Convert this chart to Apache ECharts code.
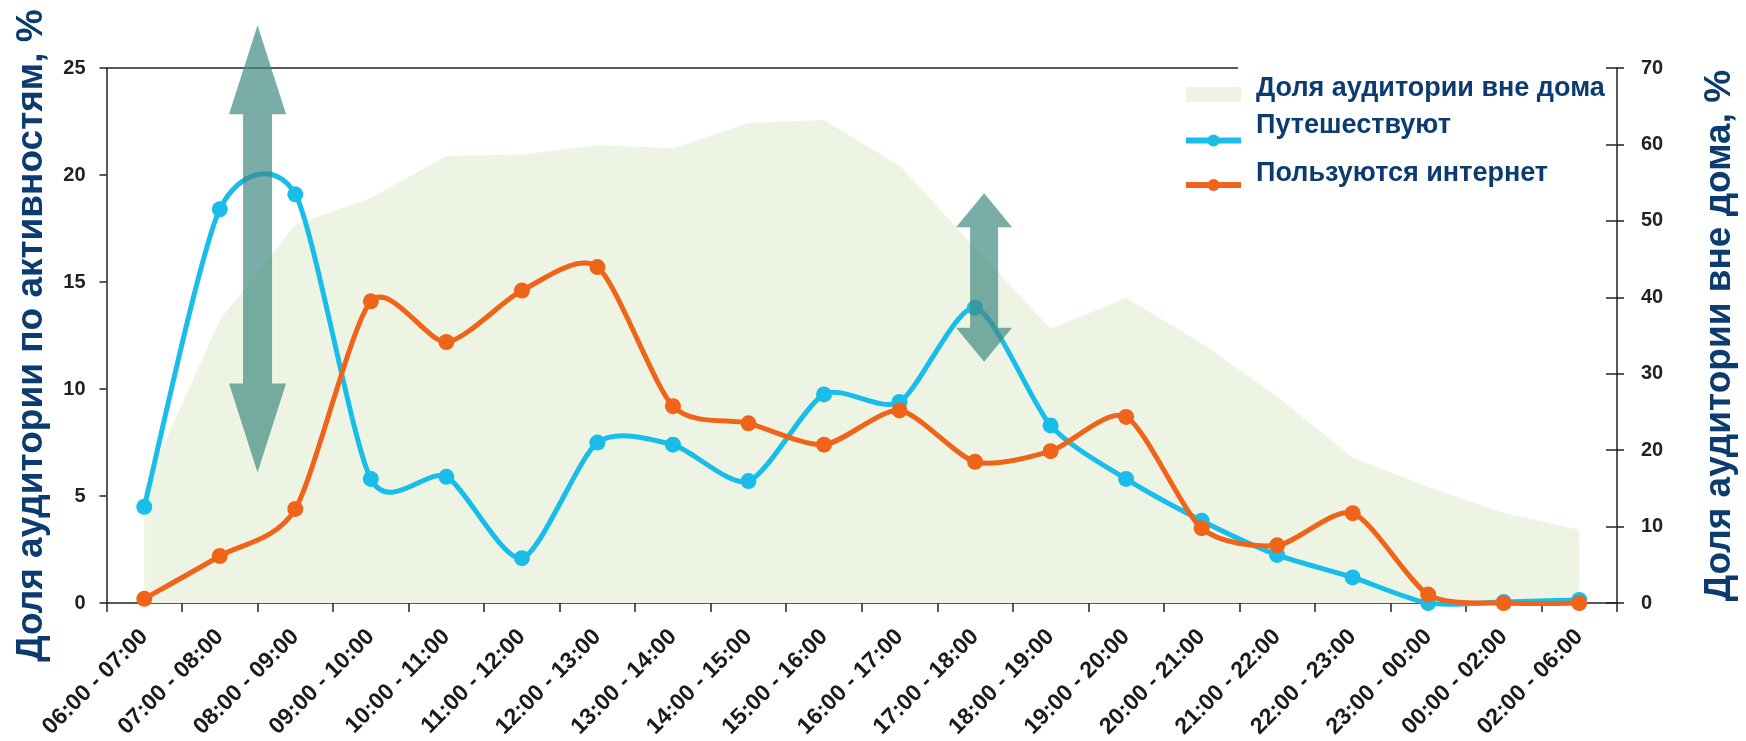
<!DOCTYPE html>
<html>
<head>
<meta charset="utf-8">
<script src="https://cdn.jsdelivr.net/npm/echarts@6/dist/echarts.min.js"></script>
<style>
  html, body { margin: 0; padding: 0; background: #ffffff; }
  #chart { width: 1746px; height: 741px; }
</style>
</head>
<body>
<div id="chart"></div>
<script>
// Time slots of the day
const categories = [
  '06:00 - 07:00', '07:00 - 08:00', '08:00 - 09:00', '09:00 - 10:00',
  '10:00 - 11:00', '11:00 - 12:00', '12:00 - 13:00', '13:00 - 14:00',
  '14:00 - 15:00', '15:00 - 16:00', '16:00 - 17:00', '17:00 - 18:00',
  '18:00 - 19:00', '19:00 - 20:00', '20:00 - 21:00', '21:00 - 22:00',
  '22:00 - 23:00', '23:00 - 00:00', '00:00 - 02:00', '02:00 - 06:00'
];

// Share of audience outside home, % (right axis)
const outsideHome = [15, 37, 49.5, 53, 58.5, 58.7, 59.9, 59.5, 62.8, 63.2,
  57.2, 46.5, 35.9, 39.9, 34.0, 27.0, 19.0, 15.2, 11.8, 9.6];

// Share travelling, % (left axis)
const travelling = [4.5, 18.4, 19.1, 5.8, 5.9, 2.1, 7.5, 7.4, 5.7, 9.75,
  9.4, 13.8, 8.3, 5.8, 3.85, 2.25, 1.2, 0, 0.05, 0.15];

// Share using the internet, % (left axis)
const internet = [0.2, 2.2, 4.4, 14.1, 12.2, 14.6, 15.7, 9.2, 8.4, 7.4,
  9.0, 6.6, 7.1, 8.7, 3.5, 2.7, 4.2, 0.4, 0, 0];

const seriesNames = ['Доля аудитории вне дома', 'Путешествуют', 'Пользуются интернет'];
const leftTitle = 'Доля аудитории по активностям, %';
const rightTitle = 'Доля аудитории вне дома, %';

const FONT = '"Liberation Sans", Arial, sans-serif';
const NAVY = '#0b3b6f';
const CYAN = '#19bde9';
const ORANGE = '#f0641a';
const AREA = '#eef4e4';
const AXIS = '#222222';

// Double-headed arrows: position on the category scale and span on the left value scale
const arrowNotes = [
  { at: 1.5, top: 27.0, bottom: 6.1, head: 89, headW: 57, shaftW: 29 },
  { at: 11.12, top: 19.15, bottom: 11.28, head: 34, headW: 56, shaftW: 28 }
];

const chart = echarts.init(document.getElementById('chart'), null, { renderer: 'canvas' });

// Cardinal-spline segment between point i and i+1 of a value list
function splineSegment(values, color, tension) {
  return function (params, api) {
    const i = params.dataIndex;
    if (i >= values.length - 1) return null;
    const clampIdx = function (j) { return Math.max(0, Math.min(values.length - 1, j)); };
    const pt = function (j) { const k = clampIdx(j); return api.coord([k, values[k]]); };
    const p0 = pt(i - 1), p1 = pt(i), p2 = pt(i + 1), p3 = pt(i + 2);
    return {
      type: 'bezierCurve',
      shape: {
        x1: p1[0], y1: p1[1], x2: p2[0], y2: p2[1],
        cpx1: p1[0] + (p2[0] - p0[0]) * tension,
        cpy1: p1[1] + (p2[1] - p0[1]) * tension,
        cpx2: p2[0] - (p3[0] - p1[0]) * tension,
        cpy2: p2[1] - (p3[1] - p1[1]) * tension
      },
      style: { stroke: color, lineWidth: 5, fill: null, lineCap: 'round' }
    };
  };
}

const textStyleBase = { fontFamily: FONT, fontSize: 27, fontWeight: 'bold', color: NAVY };

// One legend per text row (markers hidden), one legend carrying the markers
function textLegend(name, top) {
  return {
    orient: 'vertical', selectedMode: false, padding: 0,
    left: 1250, top: top, itemWidth: 1, itemHeight: 1,
    data: [{ name: name, itemStyle: { opacity: 0 }, lineStyle: { opacity: 0 } }],
    textStyle: textStyleBase
  };
}

const option = {
  backgroundColor: '#ffffff',
  animation: false,
  grid: { left: 106.5, right: 111.5, top: 68, bottom: 137.5 },
  legend: [
    textLegend(seriesNames[0], 75),
    textLegend(seriesNames[1], 112),
    textLegend(seriesNames[2], 160),
    {
      orient: 'vertical', selectedMode: false, padding: 0,
      left: 1183, top: 87, itemWidth: 55, itemHeight: 15, itemGap: 31,
      formatter: function () { return ''; },
      textStyle: { fontSize: 1 },
      data: [
        { name: seriesNames[0], icon: 'rect', itemStyle: { color: AREA } },
        { name: seriesNames[1], itemStyle: { color: CYAN }, lineStyle: { color: CYAN, width: 6 } },
        { name: seriesNames[2], itemStyle: { color: ORANGE }, lineStyle: { color: ORANGE, width: 6 } }
      ]
    }
  ],
  xAxis: {
    type: 'category',
    data: categories,
    boundaryGap: true,
    axisLine: { lineStyle: { color: AXIS, width: 1.5 } },
    axisTick: { show: true, length: 9, lineStyle: { color: AXIS, width: 1.5 } },
    axisLabel: {
      interval: 0, rotate: 45, margin: 30,
      fontFamily: FONT, fontSize: 23, fontWeight: 'bold', color: '#1a1a1a'
    },
    splitLine: { show: false }
  },
  yAxis: [
    {
      type: 'value', position: 'left', min: 0, max: 25, interval: 5,
      name: leftTitle, nameLocation: 'middle', nameRotate: 90, nameGap: 56,
      nameTextStyle: { fontFamily: FONT, fontSize: 37, fontWeight: 'bold', color: NAVY },
      axisLine: { show: true, lineStyle: { color: AXIS, width: 1.5 } },
      axisTick: { show: true, length: 7, lineStyle: { color: AXIS, width: 1.5 } },
      axisLabel: { margin: 21, fontFamily: FONT, fontSize: 20, fontWeight: 'bold', color: '#222' },
      splitLine: { show: false }
    },
    {
      type: 'value', position: 'right', min: 0, max: 70, interval: 10,
      name: rightTitle, nameLocation: 'middle', nameRotate: 90, nameGap: 84,
      nameTextStyle: { fontFamily: FONT, fontSize: 37, fontWeight: 'bold', color: NAVY },
      axisLine: { show: true, lineStyle: { color: AXIS, width: 1.5 } },
      axisTick: { show: true, length: 7, lineStyle: { color: AXIS, width: 1.5 } },
      axisLabel: { margin: 24, fontFamily: FONT, fontSize: 20, fontWeight: 'bold', color: '#222' },
      splitLine: { show: false }
    },
    {
      // inner half of the crossing ticks on the right axis
      type: 'value', position: 'right', offset: 0, min: 0, max: 70, interval: 10,
      axisLine: { show: false },
      axisTick: { show: true, inside: true, length: 11, lineStyle: { color: AXIS, width: 1.5 } },
      axisLabel: { show: false },
      splitLine: { show: false }
    }
  ],
  series: [
    {
      name: seriesNames[0],
      type: 'line',
      yAxisIndex: 1,
      data: outsideHome,
      showSymbol: false,
      symbol: 'none',
      lineStyle: { width: 0 },
      itemStyle: { color: AREA },
      areaStyle: { color: AREA, opacity: 1 },
      z: 1
    },
    {
      type: 'custom',
      yAxisIndex: 0,
      data: travelling.map(function (v, i) { return [i, v]; }),
      encode: { x: 0, y: 1 },
      renderItem: splineSegment(travelling, CYAN, 0.125),
      z: 3
    },
    {
      name: seriesNames[1],
      type: 'line',
      yAxisIndex: 0,
      data: travelling,
      symbol: 'circle',
      symbolSize: 16,
      lineStyle: { width: 0 },
      itemStyle: { color: CYAN },
      z: 3
    },
    {
      type: 'custom',
      yAxisIndex: 0,
      data: internet.map(function (v, i) { return [i, v]; }),
      encode: { x: 0, y: 1 },
      renderItem: splineSegment(internet, ORANGE, 0.125),
      z: 4
    },
    {
      name: seriesNames[2],
      type: 'line',
      yAxisIndex: 0,
      data: internet,
      symbol: 'circle',
      symbolSize: 16,
      lineStyle: { width: 0 },
      itemStyle: { color: ORANGE },
      z: 4
    }
  ]
};

chart.setOption(option);

// Overlay: top frame line and the arrows, placed through the chart scales
function catX(pos) {
  const a = chart.convertToPixel({ xAxisIndex: 0 }, categories[0]);
  const b = chart.convertToPixel({ xAxisIndex: 0 }, categories[1]);
  return a + pos * (b - a);
}
function valY(v) {
  return chart.convertToPixel({ yAxisIndex: 0 }, v);
}

const graphics = [];
const frameLeft = catX(-0.5);
const frameTop = valY(25);
graphics.push({
  type: 'line',
  shape: { x1: frameLeft, y1: frameTop, x2: 1238, y2: frameTop },
  style: { stroke: AXIS, lineWidth: 1.5 },
  z: 10
});

arrowNotes.forEach(function (a) {
  const cx = catX(a.at);
  const yt = valY(a.top);
  const yb = valY(a.bottom);
  const hw = a.headW / 2, sw = a.shaftW / 2;
  graphics.push({
    type: 'polygon',
    shape: {
      points: [
        [cx, yt], [cx + hw, yt + a.head], [cx + sw, yt + a.head],
        [cx + sw, yb - a.head], [cx + hw, yb - a.head], [cx, yb],
        [cx - hw, yb - a.head], [cx - sw, yb - a.head],
        [cx - sw, yt + a.head], [cx - hw, yt + a.head]
      ]
    },
    style: { fill: 'rgba(66, 138, 130, 0.7)' },
    z: 20
  });
});

chart.setOption({ graphic: graphics });
</script>
</body>
</html>
